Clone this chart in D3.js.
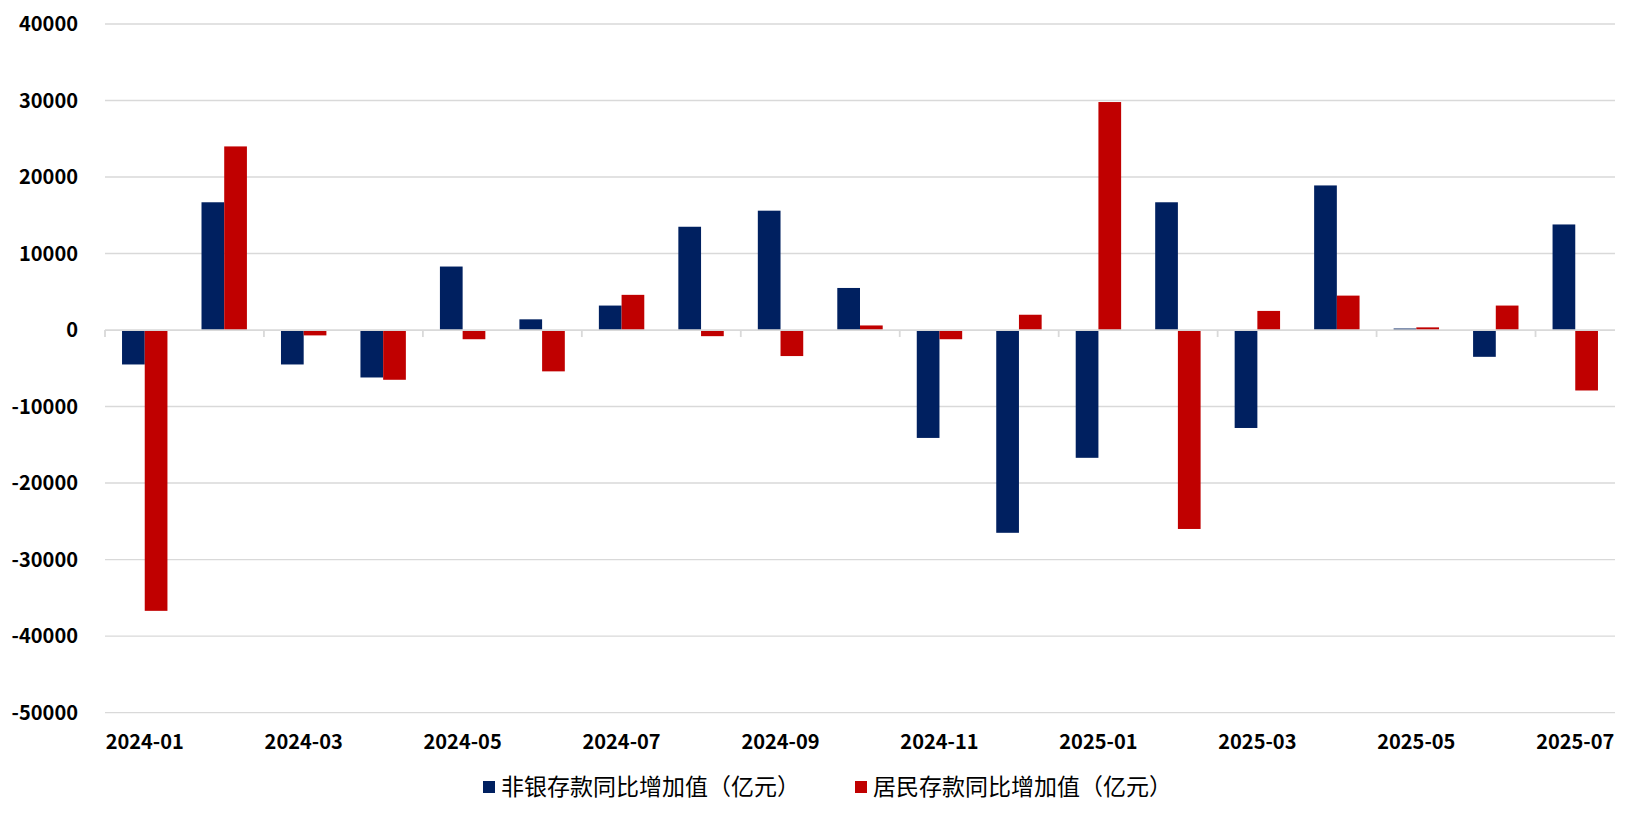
<!DOCTYPE html>
<html><head><meta charset="utf-8">
<script src="https://cdn.jsdelivr.net/npm/d3@7"></script>
<style>body{margin:0;background:#fff}svg{display:block}</style>
</head><body><svg id="c" width="1638" height="821"></svg>
<script>
const categories = ["2024-01","2024-02","2024-03","2024-04","2024-05","2024-06","2024-07","2024-08","2024-09","2024-10","2024-11","2024-12","2025-01","2025-02","2025-03","2025-04","2025-05","2025-06","2025-07"];
const nonbank = [-4500,16700,-4500,-6200,8300,1400,3200,13500,15600,5500,-14100,-26500,-16700,16700,-12800,18900,200,-3500,13800];
const household = [-36700,24000,-700,-6500,-1200,-5400,4600,-800,-3400,600,-1200,2000,29800,-26000,2500,4500,350,3200,-7900];
const seriesNames = ["非银存款同比增加值（亿元）","居民存款同比增加值（亿元）"];
const colors = ["#002060","#C00000"];
const yTicks = [40000,30000,20000,10000,0,-10000,-20000,-30000,-40000,-50000];
const xLabels = ["2024-01","2024-03","2024-05","2024-07","2024-09","2024-11","2025-01","2025-03","2025-05","2025-07"];

const svg = d3.select("#c");
const font = "'Noto Sans CJK SC','Noto Sans',sans-serif";
const left = 105, right = 1615;
const y = d3.scaleLinear().domain([-50000,40000]).range([712.6,24]);
const x0 = d3.scaleBand().domain(categories).range([left,right]).paddingInner(1.5/3.5).paddingOuter(0.75/3.5);
const x1 = d3.scaleBand().domain([0,1]).range([0,x0.bandwidth()]);
const step = x0.step();

// gridlines
svg.append("g").selectAll("line").data(yTicks.filter(d=>d!==0)).join("line")
  .attr("x1",left).attr("x2",right).attr("y1",d=>y(d)).attr("y2",d=>y(d))
  .attr("stroke","#d9d9d9").attr("stroke-width",1.4);

// y labels
svg.append("g").selectAll("text").data(yTicks).join("text")
  .attr("x",78).attr("y",d=>y(d)).attr("dy","0.36em").attr("text-anchor","end")
  .attr("font-family",font).attr("font-weight","bold").attr("font-size",20).attr("fill","#000")
  .text(d=>d);

// bars
const series = [nonbank, household];
const g = svg.append("g");
series.forEach((vals,si)=>{
  g.selectAll(null).data(categories).join("rect")
    .attr("x",c=>x0(c)+x1(si))
    .attr("width",x1.bandwidth())
    .attr("y",(c,i)=>y(Math.max(0,vals[i])))
    .attr("height",(c,i)=>Math.abs(y(vals[i])-y(0)))
    .attr("fill",colors[si]);
});

// zero axis
svg.append("line").attr("x1",left).attr("x2",right).attr("y1",y(0)).attr("y2",y(0))
  .attr("stroke","#d9d9d9").attr("stroke-width",1.8);
const tickIdx = d3.range(0,categories.length,2);
svg.append("g").selectAll("line").data(tickIdx).join("line")
  .attr("x1",i=>left+i*step).attr("x2",i=>left+i*step)
  .attr("y1",y(0)).attr("y2",y(0)+7).attr("stroke","#d9d9d9").attr("stroke-width",1.8);

// x labels
svg.append("g").selectAll("text").data(xLabels).join("text")
  .attr("x",d=>x0(d)+x0.bandwidth()/2).attr("y",742).attr("dy","0.36em").attr("text-anchor","middle")
  .attr("font-family",font).attr("font-weight","bold").attr("font-size",20).attr("fill","#000")
  .text(d=>d);

// legend
const legX = [483, 855];
seriesNames.forEach((n,i)=>{
  svg.append("rect").attr("x",legX[i]).attr("y",781).attr("width",12).attr("height",12).attr("fill",colors[i]);
  svg.append("text").attr("x",legX[i]+18).attr("y",787).attr("dy","0.36em")
    .attr("font-family",font).attr("font-size",23).attr("fill","#000").text(n);
});
</script></body></html>
